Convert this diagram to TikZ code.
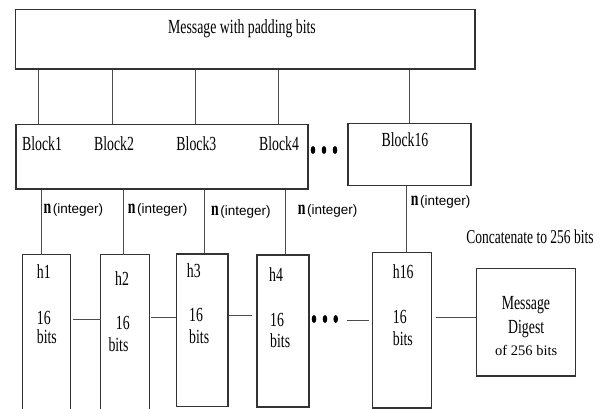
\documentclass[tikz,border=0pt]{standalone}
\usepackage{fontspec}
\setmainfont{Liberation Serif}
\newfontfamily\sansf{Liberation Sans}
\usepackage{graphicx}
\newcommand\st[1]{\scalebox{1}[1.45]{#1}}
\newcommand\nint{\st{\textbf{n}}\hspace{1.5pt}{\sansf\fontsize{13.5}{16}\selectfont(integer)}}
\begin{document}
\begin{tikzpicture}[x=1pt,y=-1pt,
  box/.style={draw=black!80,line width=1.1pt,inner sep=0pt},
  openbox/.style={inner sep=0pt},
  edge/.style={draw=black!80,line width=1.1pt},
  conn/.style={draw=black!70,line width=0.9pt},
  lbl/.style={inner sep=0pt,font=\fontsize{13.8}{16}\selectfont},
  lblw/.style={lbl,anchor=west},
  intl/.style={inner sep=0pt,anchor=west,font=\fontsize{13.8}{16}\selectfont}]
\fill[white] (0,0) rectangle (603,409);
\useasboundingbox (0,0) rectangle (603,409);

% top box
\node[box,minimum width=459.5pt,minimum height=59.7pt] (top) at (245.25,39.15) {};
\node[lbl] (ttop) at (242,28.3) {\st{Message with padding bits}};

% blocks
\node[box,minimum width=292pt,minimum height=64.3pt] (blocks) at (162,156.85) {};
\node[lbl] (bl1) at (42,143.7) {\st{Block1}};
\node[lbl] (bl2) at (114,143.7) {\st{Block2}};
\node[lbl] (bl3) at (196.4,143.7) {\st{Block3}};
\node[lbl] (bl4) at (279,143.7) {\st{Block4}};
\node[box,minimum width=123pt,minimum height=62pt] (b16) at (409.5,154.7) {};
\node[lbl] (bl16) at (405,139.7) {\st{Block16}};

% dots between blocks
\foreach \x in {313,324,335} \fill[black] (\x,150) ellipse [x radius=2.3pt, y radius=4pt];

% columns
\coordinate (c1) at (38,0);
\coordinate (c2) at (112,0);
\coordinate (c3) at (195,0);
\coordinate (c4) at (278,0);
\draw[conn] (top.south -| c1) -- (blocks.north -| c1);
\draw[conn] (top.south -| c2) -- (blocks.north -| c2);
\draw[conn] (top.south -| c3) -- (blocks.north -| c3);
\draw[conn] (top.south -| c4) -- (blocks.north -| c4);
\draw[conn] (top.south -| b16.north) -- (b16.north);

% h boxes
\node[openbox,minimum width=47.3pt,minimum height=156pt] (h1) at (46.35,333) {};
\draw[edge] (h1.south west) |- (h1.north east) -- (h1.south east);
\node[openbox,minimum width=48pt,minimum height=156pt] (h2) at (125,333) {};
\draw[edge] (h2.south west) |- (h2.north east) -- (h2.south east);
\node[box,minimum width=51.3pt,minimum height=152.7pt] (h3) at (202.35,330.35) {};
\node[box,minimum width=52pt,minimum height=152pt] (h4) at (283,331) {};
\node[box,minimum width=59pt,minimum height=155.3pt] (h16) at (402.2,330.35) {};
\node[box,minimum width=99pt,minimum height=107.7pt] (dig) at (526.2,322.15) {};

% block -> h connectors
\coordinate (d1) at (41.7,0);
\coordinate (d2) at (123.7,0);
\coordinate (d3) at (204,0);
\coordinate (d4) at (285,0);
\coordinate (d16) at (406,0);
\draw[conn] (blocks.south -| d1) -- (h1.north -| d1);
\draw[conn] (blocks.south -| d2) -- (h2.north -| d2);
\draw[conn] (blocks.south -| d3) -- (h3.north -| d3);
\draw[conn] (blocks.south -| d4) -- (h4.north -| d4);
\draw[conn] (b16.south -| d16) -- (h16.north -| d16);

% n(integer) labels
\node[intl] (n1) at (43.5,210.5) {\nint};
\node[intl] (n2) at (127.7,210.5) {\nint};
\node[intl] (n3) at (211,212.5) {\nint};
\node[intl] (n4) at (297.7,211.5) {\nint};
\node[intl] (n16) at (410.7,201.7) {\nint};

% h texts
\node[lblw] (h1a) at (36.7,272) {\st{h1}};
\node[lblw] (h1b) at (36.7,318) {\st{16}};
\node[lblw] (h1c) at (36.7,337) {\st{bits}};
\node[lblw] (h2a) at (115,279) {\st{h2}};
\node[lblw] (h2b) at (115.7,323) {\st{16}};
\node[lblw] (h2c) at (108.3,345) {\st{bits}};
\node[lblw] (h3a) at (186.7,271) {\st{h3}};
\node[lblw] (h3b) at (189,315.3) {\st{16}};
\node[lblw] (h3c) at (189,336.7) {\st{bits}};
\node[lblw] (h4a) at (269,275) {\st{h4}};
\node[lblw] (h4b) at (270,319.7) {\st{16}};
\node[lblw] (h4c) at (270,340.8) {\st{bits}};
\node[lblw] (h16a) at (392.7,271.7) {\st{h16}};
\node[lblw] (h16b) at (392.7,316.7) {\st{16}};
\node[lblw] (h16c) at (392.7,338.3) {\st{bits}};

% horizontal connectors
\coordinate (r12) at (0,319);
\coordinate (r23) at (0,317);
\coordinate (r34) at (0,315.3);
\coordinate (rdig) at (0,317.7);
\draw[conn] ([xshift=2.7pt]h1.east |- r12) -- (h2.west |- r12);
\draw[conn] ([xshift=1.5pt]h2.east |- r23) -- (h3.west |- r23);
\draw[conn] ([xshift=0.5pt]h3.east |- r34) -- ([xshift=-4pt]h4.west |- r34);
\foreach \x in {314,325,335.7} \fill[black] (\x,319) ellipse [x radius=2.3pt, y radius=4pt];
\coordinate (dotend) at (347,320.5);
\draw[conn] (dotend) -- ([xshift=-3.5pt]h16.west |- dotend);
\draw[conn] ([xshift=4pt]h16.east |- rdig) -- (dig.west |- rdig);

% concatenate and digest texts
\node[lbl,font=\fontsize{13.5}{16}\selectfont] (conc) at (530,236.7) {\st{Concatenate to 256 bits}};
\node[lbl] (dg1) at (525.9,305) {\st{Message}};
\node[lbl] (dg2) at (526.2,329) {\st{Digest}};
\node[lbl,font=\fontsize{14.5}{16}\selectfont] (dg3) at (526.2,350) {of 256 bits};
\end{tikzpicture}
\end{document}
